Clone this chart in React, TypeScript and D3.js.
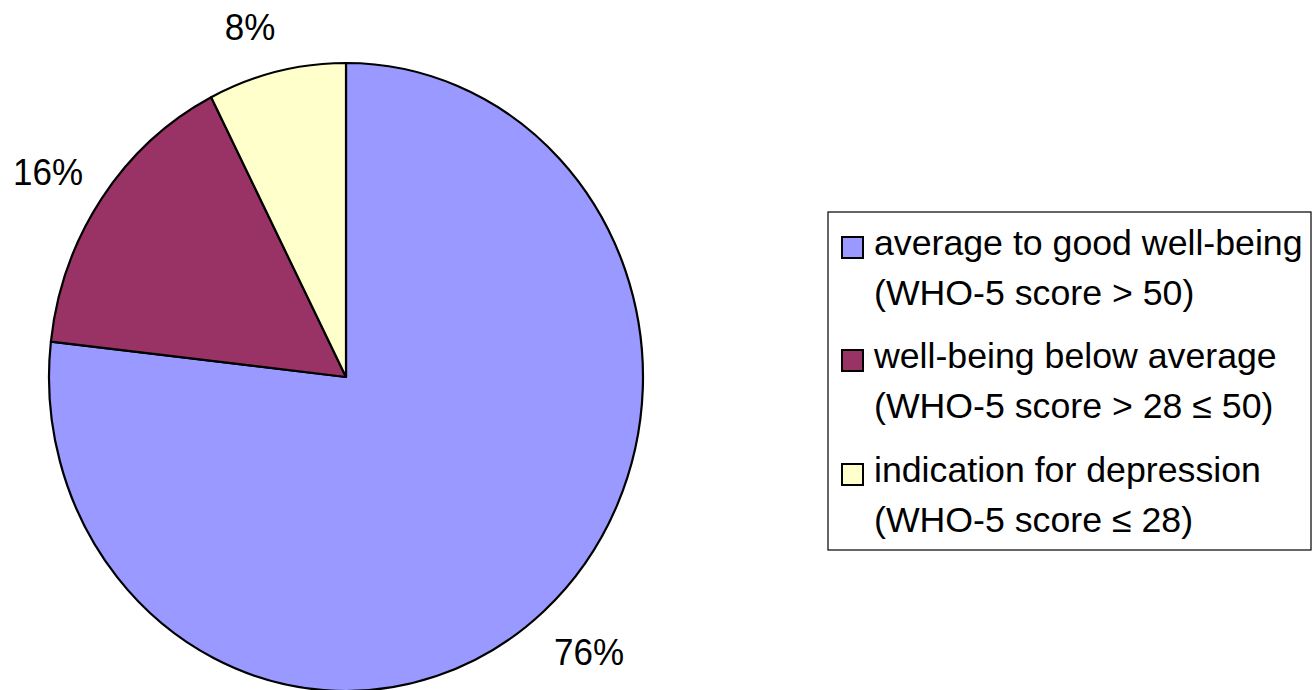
import React from "react";
import * as d3 from "d3";

const categories = [
  "average to good well-being",
  "well-being below average",
  "indication for depression",
];
const subLabels = [
  "(WHO-5 score > 50)",
  "(WHO-5 score > 28 ≤ 50)",
  "(WHO-5 score ≤ 28)",
];
const values = [76.8, 15.7, 7.5];
const valueLabels = ["76%", "16%", "8%"];
const colors = ["#9999FF", "#993366", "#FFFFCC"];

const W = 1316;
const H = 690;
const cx = 346;
const cy = 377;
const rx = 297;
const ry = 314;
const sy = ry / rx;

// label anchor positions (x center, baseline y)
const labelPos: [number, number][] = [
  [589, 665],
  [48, 185],
  [250, 40],
];

export default function App() {
  const pie = d3.pie<number>().sort(null).value((d) => d);
  const arcs = pie(values);
  const arc = d3.arc<d3.PieArcDatum<number>>().innerRadius(0).outerRadius(rx);

  const legendX = 828;
  const legendY = 212;
  const legendW = 483;
  const legendH = 338;
  const entryBase = [255, 368, 482];

  return (
    <svg
      width={W}
      height={H}
      style={{ position: "absolute", left: 0, top: 0, background: "#fff" }}
      fontFamily="'Liberation Sans', Arial, sans-serif"
    >
      <g transform={`translate(${cx},${cy}) scale(1,${sy})`}>
        {arcs.map((a, i) => (
          <path
            key={i}
            d={arc(a) || ""}
            fill={colors[i]}
            stroke="#000"
            strokeWidth={2.2}
            strokeLinejoin="round"
            vectorEffect="non-scaling-stroke"
          />
        ))}
      </g>
      {valueLabels.map((t, i) => (
        <text
          key={i}
          transform={`translate(${labelPos[i][0]},${labelPos[i][1]}) scale(1,1.07)`}
          textAnchor="middle"
          fontSize={35}
          fill="#000"
        >
          {t}
        </text>
      ))}
      <rect
        x={legendX}
        y={legendY}
        width={legendW}
        height={legendH}
        fill="#fff"
        stroke="#000"
        strokeWidth={1.2}
      />
      {categories.map((c, i) => (
        <g key={i}>
          <rect
            x={842}
            y={entryBase[i] - 18}
            width={21}
            height={21}
            fill={colors[i]}
            stroke="#000"
            strokeWidth={2}
          />
          <text x={874} y={entryBase[i]} fontSize={35.7} fill="#000">
            {c}
          </text>
          <text x={874} y={entryBase[i] + 50} fontSize={35.7} fill="#000">
            {subLabels[i]}
          </text>
        </g>
      ))}
    </svg>
  );
}
